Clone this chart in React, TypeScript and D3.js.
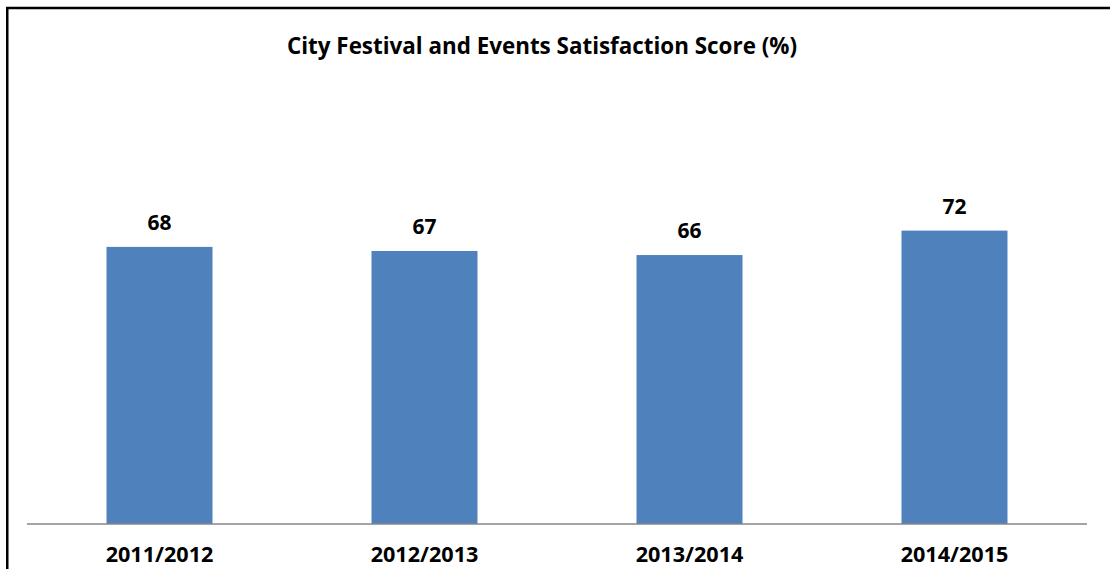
import React from "react";
import * as d3 from "d3";

const categories = ["2011/2012", "2012/2013", "2013/2014", "2014/2015"];
const scores = [68, 67, 66, 72];
const title = "City Festival and Events Satisfaction Score (%)";

const W = 1110;
const H = 569;

export default function App() {
  const x = d3
    .scaleBand<string>()
    .domain(categories)
    .range([27, 1087])
    .paddingInner(0.6)
    .paddingOuter(0.3);
  const y = d3.scaleLinear().domain([0, 80]).range([524, 198]);
  const font = "'Open Sans', Lato, sans-serif";

  return (
    <div style={{ position: "absolute", left: 0, top: 0 }}>
      <svg width={W} height={H} style={{ display: "block", background: "#fff" }}>
        <rect x={0} y={0} width={W} height={H} fill="#fff" />
        <rect
          x={7.25}
          y={8}
          width={W + 20}
          height={H + 20}
          fill="none"
          stroke="#000"
          strokeWidth={2.5}
        />
        <text
          x={542}
          y={54}
          textAnchor="middle"
          fontFamily={font}
          fontWeight={700}
          fontSize={22.4}
          fill="#000"
        >
          {title}
        </text>
        {categories.map((c, i) => (
          <g key={c}>
            <rect
              x={x(c)}
              y={y(scores[i])}
              width={x.bandwidth()}
              height={y(0) - y(scores[i])}
              fill="#4F81BD"
            />
            <text
              x={(x(c) as number) + x.bandwidth() / 2}
              y={y(scores[i]) - 17}
              textAnchor="middle"
              fontFamily={font}
              fontWeight={700}
              fontSize={21}
              fill="#000"
            >
              {scores[i]}
            </text>
            <text
              x={(x(c) as number) + x.bandwidth() / 2}
              y={562}
              textAnchor="middle"
              fontFamily={font}
              fontWeight={700}
              fontSize={21.6}
              fill="#000"
            >
              {c}
            </text>
          </g>
        ))}
        <line x1={27} x2={1087} y1={y(0)} y2={y(0)} stroke="#868686" strokeWidth={1.5} />
      </svg>
    </div>
  );
}
